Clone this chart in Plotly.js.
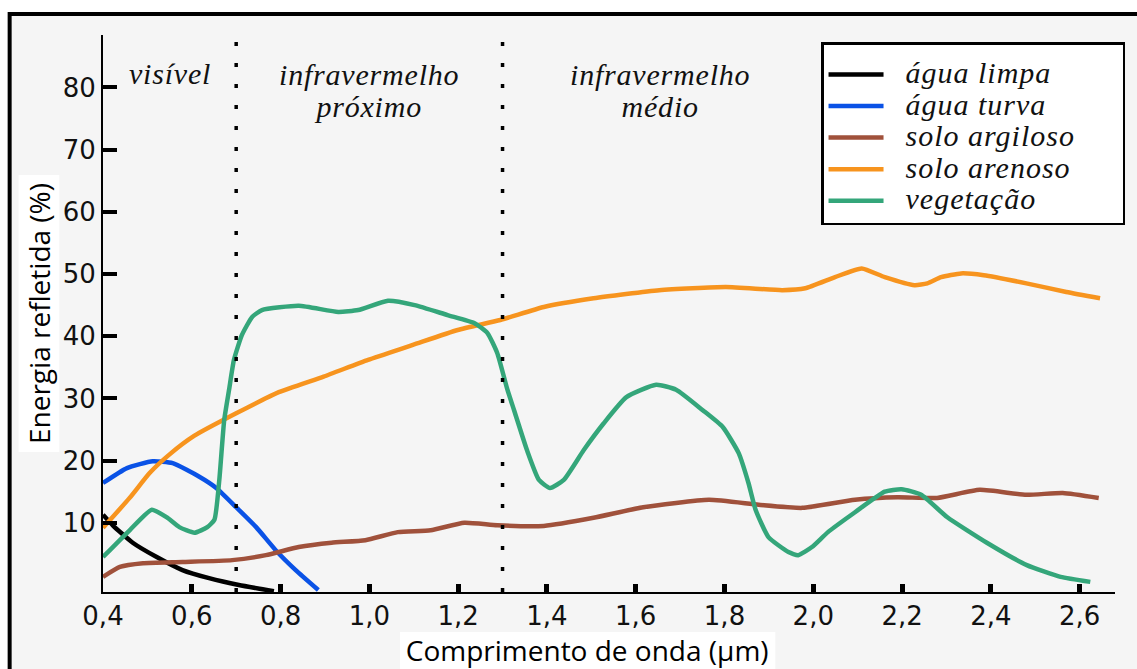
<!DOCTYPE html>
<html>
<head>
<meta charset="utf-8">
<script src="https://cdn.plot.ly/plotly-3.0.1.min.js"></script>
<style>
  html, body { margin: 0; padding: 0; background: #ffffff; }
  #chart { width: 1137px; height: 669px; }
</style>
</head>
<body>
<div id="chart"></div>
<script>
// ---- data (wavelength in µm, reflectance in %) ----
const seriesNames = ["água limpa", "água turva", "solo argiloso", "solo arenoso", "vegetação"];
const seriesColors = ["#000000", "#0a52e6", "#a0513b", "#f7941e", "#34a67a"];

const aguaLimpaX = [0.40, 0.422, 0.467, 0.521, 0.579, 0.639, 0.706, 0.785];
const aguaLimpaY = [11.3, 9.6, 6.8, 4.5, 2.4, 1.1, 0.0, -1.0];

const aguaTurvaX = [0.40, 0.454, 0.512, 0.557, 0.617, 0.655, 0.70, 0.745, 0.789, 0.834, 0.885];
const aguaTurvaY = [16.4, 18.8, 19.9, 19.6, 17.4, 15.6, 12.5, 9.3, 5.6, 2.4, -0.8];

const soloArgilosoX = [0.40, 0.438, 0.49, 0.579, 0.691, 0.767, 0.841, 0.915, 0.991, 1.064, 1.138, 1.214, 1.288, 1.393, 1.505, 1.617, 1.765, 1.877, 1.975, 2.094, 2.19, 2.279, 2.375, 2.48, 2.562, 2.643];
const soloArgilosoY = [1.3, 2.9, 3.5, 3.7, 4.0, 4.8, 6.1, 6.8, 7.2, 8.5, 8.8, 10.0, 9.6, 9.5, 10.8, 12.5, 13.7, 12.9, 12.4, 13.7, 14.1, 14.0, 15.3, 14.5, 14.8, 14.0];

const soloArenosoX = [0.40, 0.46, 0.505, 0.55, 0.606, 0.70, 0.796, 0.897, 0.997, 1.098, 1.199, 1.295, 1.393, 1.505, 1.653, 1.803, 1.93, 1.982, 2.049, 2.109, 2.161, 2.228, 2.257, 2.288, 2.333, 2.384, 2.48, 2.57, 2.646];
const soloArenosoY = [9.2, 14.0, 18.0, 21.0, 24.0, 27.6, 31.0, 33.5, 36.2, 38.6, 41.0, 42.6, 44.7, 46.1, 47.4, 47.9, 47.4, 47.7, 49.5, 50.9, 49.5, 48.2, 48.5, 49.5, 50.1, 49.8, 48.5, 47.1, 46.1];

const vegetacaoX = [0.40, 0.46, 0.51, 0.543, 0.572, 0.606, 0.635, 0.651, 0.662, 0.673, 0.684, 0.695, 0.713, 0.736, 0.758, 0.841, 0.930, 0.975, 1.042, 1.102, 1.176, 1.237, 1.266, 1.288, 1.311, 1.326, 1.355, 1.382, 1.407, 1.438, 1.483, 1.528, 1.579, 1.646, 1.691, 1.751, 1.796, 1.832, 1.854, 1.870, 1.899, 1.944, 1.966, 1.997, 2.033, 2.094, 2.161, 2.199, 2.243, 2.302, 2.391, 2.481, 2.557, 2.624];
const vegetacaoY = [4.5, 8.8, 12.1, 10.9, 9.3, 8.4, 9.3, 10.5, 16.9, 26.5, 31.4, 36.2, 40.2, 43.1, 44.2, 44.9, 43.9, 44.2, 45.7, 45.0, 43.4, 42.1, 40.5, 37.3, 31.4, 28.1, 21.7, 16.9, 15.6, 16.9, 21.7, 26.0, 30.2, 32.2, 31.4, 28.1, 25.4, 21.2, 16.4, 12.1, 7.7, 5.3, 4.8, 6.1, 8.5, 11.7, 15.0, 15.4, 14.5, 10.9, 6.8, 3.2, 1.3, 0.5];

const xTickVals = [0.4, 0.6, 0.8, 1.0, 1.2, 1.4, 1.6, 1.8, 2.0, 2.2, 2.4, 2.6];
const yTickVals = [10, 20, 30, 40, 50, 60, 70, 80];
const regionBounds = [0.7, 1.3];
const regionLabels = [
  {x: 0.552, lines: ["visível"]},
  {x: 1.0, lines: ["infravermelho", "próximo"]},
  {x: 1.655, lines: ["infravermelho", "médio"]}
];
const xTitle = "Comprimento de onda (µm)";
const yTitle = "Energia refletida (%)";

const xs = [aguaLimpaX, aguaTurvaX, soloArgilosoX, soloArenosoX, vegetacaoX];
const ys = [aguaLimpaY, aguaTurvaY, soloArgilosoY, soloArenosoY, vegetacaoY];

const NB = "\u00a0";
const traces = seriesNames.map((n, i) => ({
  type: "scatter",
  mode: "lines",
  x: xs[i],
  y: ys[i],
  name: '<span style="font-size:30px;letter-spacing:1px">' + NB + NB + n + NB.repeat(5) + '</span>',
  line: {color: seriesColors[i], width: 4.5, shape: "spline", smoothing: 0.5},
  hoverinfo: "skip"
}));

// pixel helpers for paper placement (plot area: left 103, right 1122, top 35, bottom 592)
const PL = 103, PR = 1122, PT = 35, PB = 592;
const px = v => (v - PL) / (PR - PL);
const py = v => (PB - v) / (PB - PT);

const shapes = [
  // outer frame with light background
  {type: "rect", xref: "paper", yref: "paper", x0: px(9), x1: px(1150), y0: py(14), y1: py(690),
   line: {color: "#000", width: 4}, fillcolor: "#f5f5f5", layer: "below"},
  // white patches behind axis titles
  {type: "rect", xref: "paper", yref: "paper", x0: px(402), x1: px(780), y0: py(632), y1: py(669),
   line: {width: 0}, fillcolor: "#ffffff", layer: "below"},
  {type: "rect", xref: "paper", yref: "paper", x0: px(18), x1: px(59), y0: py(175), y1: py(452),
   line: {width: 0}, fillcolor: "#ffffff", layer: "below"}
];
regionBounds.forEach(b => shapes.push({
  type: "line", xref: "x", yref: "paper", x0: b, x1: b, y0: 0, y1: py(40),
  line: {color: "#000", width: 3.5, dash: "4px,17px"}
}));

// one annotation per region label
const annotations = regionLabels.map(r => ({
  text: r.lines.map(t => '<span style="font-size:30px;letter-spacing:0.8px">' + t + '</span>').join('<br>'),
  x: r.x, xref: "x",
  y: py(r.lines.length === 1 ? 74 : 90), yref: "paper",
  xanchor: "center", yanchor: "middle", showarrow: false,
  font: {family: "Liberation Serif, Times New Roman, serif", size: 24.5, color: "#111", style: "italic"}
}));

const layout = {
  width: 1137, height: 669,
  margin: {l: PL, r: 1137 - PR, t: PT, b: 669 - PB, pad: 0},
  paper_bgcolor: "#ffffff",
  plot_bgcolor: "rgba(0,0,0,0)",
  separators: ",.",
  showlegend: true,
  legend: {
    x: px(826), y: py(42), xanchor: "left", yanchor: "top",
    bgcolor: "#ffffff", bordercolor: "#000", borderwidth: 2.5,
    font: {family: "Liberation Serif, Times New Roman, serif", size: 22, color: "#111", style: "italic"},
    itemwidth: 55,
    title: {text: NB, font: {size: 7}}
  },
  xaxis: {
    range: [0.4, 0.4 + (PR - PL) / 447],
    tickvals: xTickVals, tickformat: ".1f",
    ticks: "inside", ticklen: 8, tickwidth: 5, tickcolor: "#000",
    showline: true, linecolor: "#000", linewidth: 2,
    showgrid: false, zeroline: false,
    tickfont: {family: "DejaVu Sans", size: 26, color: "#111"},
    title: {text: xTitle + '<span>' + NB.repeat(6) + '</span>', font: {family: "Open Sans", size: 28, color: "#000"}, standoff: 0}
  },
  yaxis: {
    range: [(585 - PB) / 6.22, (585 - PT) / 6.22],
    tickvals: yTickVals,
    ticks: "inside", ticklen: 14, tickwidth: 4, tickcolor: "#000",
    showline: true, linecolor: "#000", linewidth: 2,
    showgrid: false, zeroline: false,
    tickfont: {family: "DejaVu Sans", size: 26, color: "#111"},
    title: {text: yTitle, font: {family: "Open Sans", size: 28, color: "#000"}, standoff: 4}
  },
  shapes: shapes,
  annotations: annotations
};

Plotly.newPlot("chart", traces, layout, {displayModeBar: false, staticPlot: true});
</script>
</body>
</html>
